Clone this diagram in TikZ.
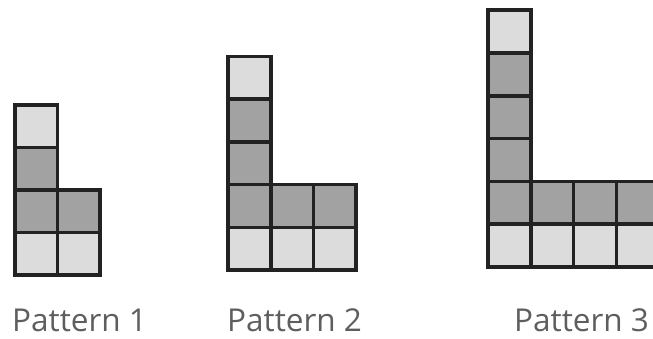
\documentclass[tikz,border=0pt]{standalone}
\usepackage{fontspec}
\setmainfont{Open Sans}
\definecolor{lightc}{HTML}{DCDCDC}
\definecolor{darkc}{HTML}{A2A2A2}
\definecolor{edgec}{HTML}{222222}
\definecolor{textc}{HTML}{5E5E5E}
\begin{document}
\begin{tikzpicture}[x=1pt,y=-1pt,
  cell/.style={draw=edgec,line width=3.6pt,minimum size=#1,inner sep=0pt,outer sep=0pt},
  lightcell/.style={cell=#1,fill=lightc},
  darkcell/.style={cell=#1,fill=darkc},
  label/.style={text=textc,font=\fontsize{31.5}{32}\selectfont,anchor=base west,inner sep=0pt}]
\useasboundingbox (0,0) rectangle (653,338);
\clip (0,0) rectangle (653,338);
% Pattern 1
\def\s{42.5}
\foreach \c in {0,1}{
  \node[lightcell=\s] (p1-1-\c) at ({15+\s*(\c+0.5)},{275-\s*0.5}) {};
  \node[darkcell=\s] (p1-2-\c) at ({15+\s*(\c+0.5)},{275-\s*1.5}) {};}
\node[darkcell=\s] (p1-3-0) at ({15+\s*0.5},{275-\s*2.5}) {};
\node[lightcell=\s] (p1-4-0) at ({15+\s*0.5},{275-\s*3.5}) {};
% Pattern 2
\def\s{42.7}
\foreach \c in {0,1,2}{
  \node[lightcell=\s] (p2-1-\c) at ({228+\s*(\c+0.5)},{270-\s*0.5}) {};
  \node[darkcell=\s] (p2-2-\c) at ({228+\s*(\c+0.5)},{270-\s*1.5}) {};}
\node[darkcell=\s] (p2-3-0) at ({228+\s*0.5},{270-\s*2.5}) {};
\node[darkcell=\s] (p2-4-0) at ({228+\s*0.5},{270-\s*3.5}) {};
\node[lightcell=\s] (p2-5-0) at ({228+\s*0.5},{270-\s*4.5}) {};
% Pattern 3
\def\s{42.8}
\foreach \c in {0,1,2,3}{
  \node[lightcell=\s] (p3-1-\c) at ({488+\s*(\c+0.5)},{267-\s*0.5}) {};
  \node[darkcell=\s] (p3-2-\c) at ({488+\s*(\c+0.5)},{267-\s*1.5}) {};}
\foreach \r in {3,4,5}{
  \node[darkcell=\s] (p3-\r-0) at ({488+\s*0.5},{267-\s*(\r-0.5)}) {};}
\node[lightcell=\s] (p3-6-0) at ({488+\s*0.5},{267-\s*5.5}) {};
% Labels
\node[label] (l1) at (12,331) {Pattern 1};
\node[label] (l2) at (227,331) {Pattern 2};
\node[label] (l3) at (514,331) {Pattern 3};
\end{tikzpicture}
\end{document}
